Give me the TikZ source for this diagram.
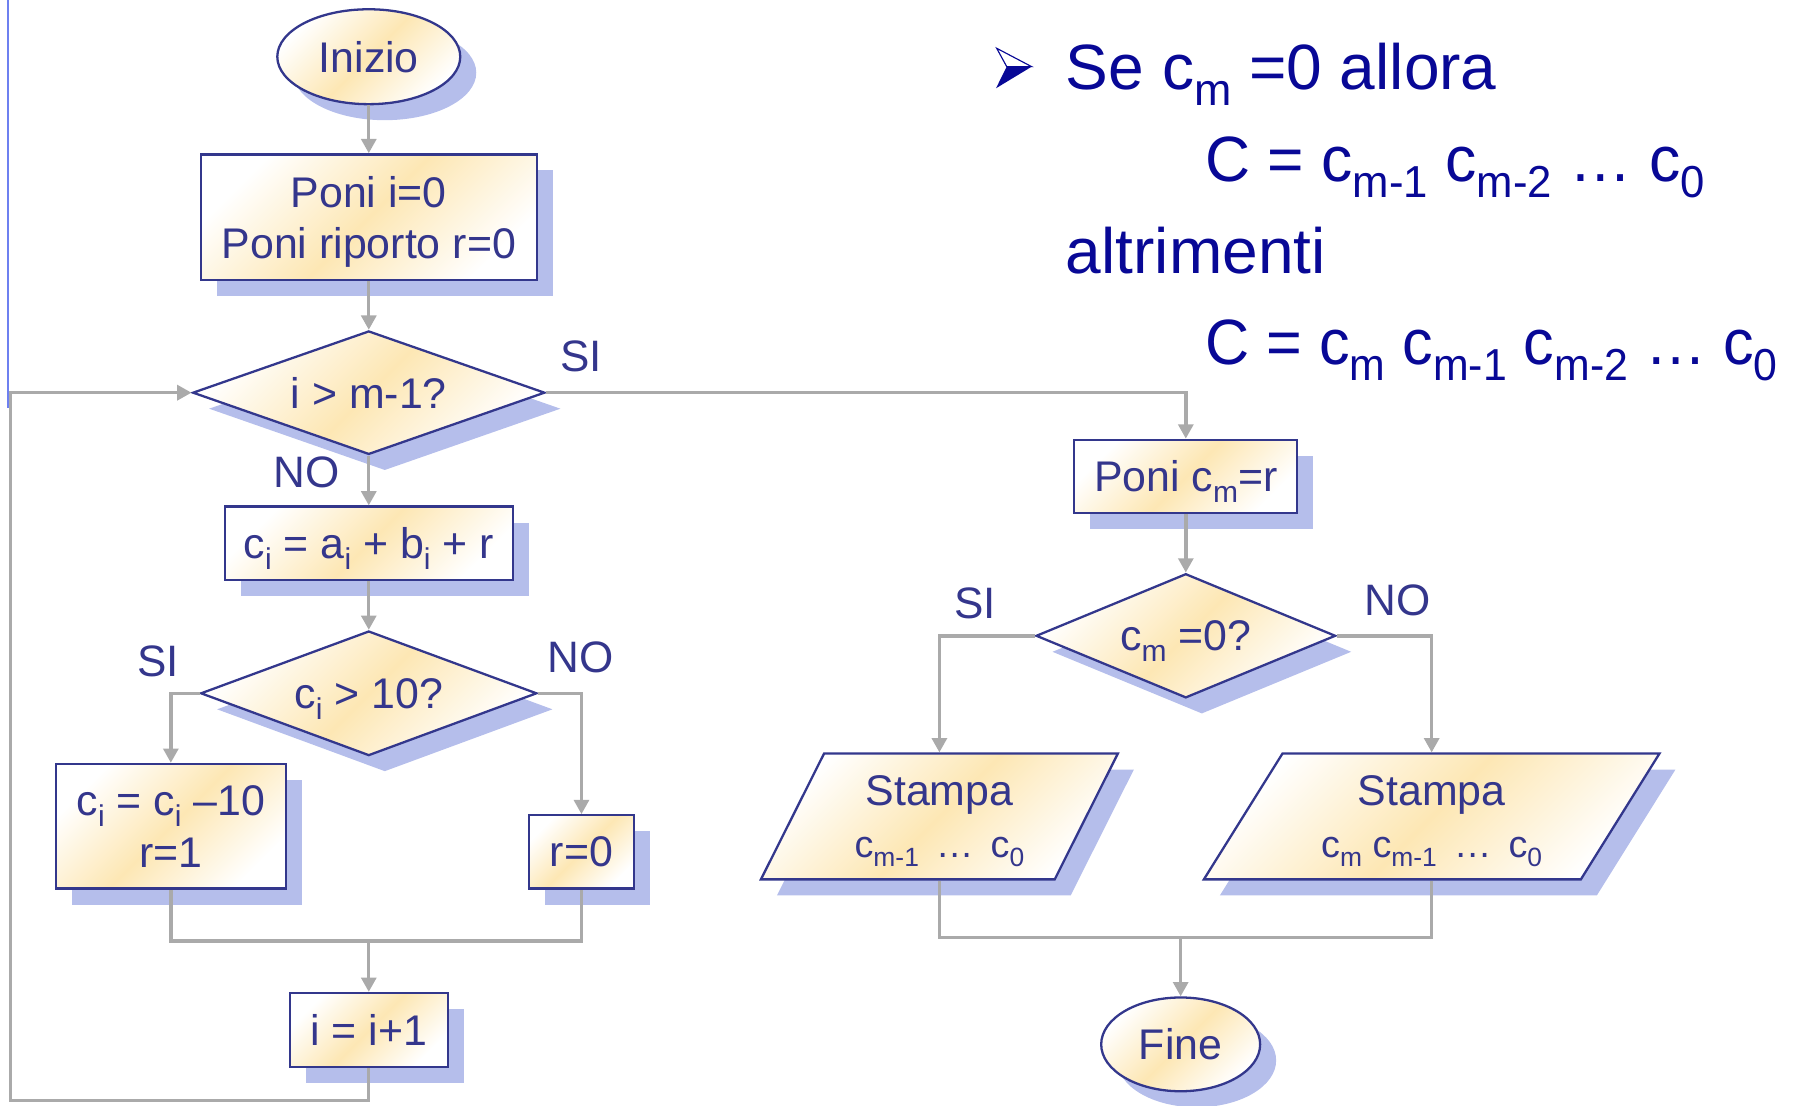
\documentclass[tikz,border=0pt]{standalone}
\usepackage{fontspec}
\setmainfont{Liberation Sans}
\usepackage{graphicx}
\usetikzlibrary{shapes.geometric,arrows.meta,shadows}
\definecolor{txt}{RGB}{52,54,140}
\definecolor{edge}{RGB}{51,55,140}
\definecolor{shd}{RGB}{181,190,235}
\definecolor{yel}{RGB}{253,231,180}
\definecolor{gry}{RGB}{170,170,170}
\definecolor{navy}{RGB}{8,8,150}
\definecolor{sidebar}{RGB}{110,128,240}
\newcommand\dn[1]{\raisebox{-.25em}{\scalebox{.7}{#1}}}
\newcommand\cseq[1]{{\fontsize{33}{40}\selectfont #1}}
\begin{document}
\begin{tikzpicture}[x=1pt,y=-1pt,
 base/.style={draw=edge,line width=2pt,text=txt,top color=white,bottom color=white,middle color=yel,shading angle=45,
   drop shadow={shadow xshift=14pt,shadow yshift=-14pt,fill=shd,opacity=1},
   font=\fontsize{37.5}{45}\selectfont,align=center,inner sep=0pt,text depth=0pt},
 box/.style={base,rectangle},
 dec/.style={base,diamond,aspect=2.8},
 term/.style={base,ellipse},
 para/.style={base,trapezium,trapezium stretches=true},
 conn/.style={draw=gry,line width=3pt,-{Triangle[length=12.5pt,width=13pt]}},
 wire/.style={draw=gry,line width=3pt},
 lab/.style={text=txt,font=\fontsize{38.5}{40}\selectfont,inner sep=0pt},
 rt/.style={text=navy,font=\fontsize{56}{60}\selectfont,inner sep=0pt,anchor=base west}]
\useasboundingbox (0,0) rectangle (1568,967);

\draw[sidebar,line width=1.5pt] (7,0) -- (7,357);

% bullet
\fill[navy] (880.4,58.3) -- (902.2,58.3) -- (871,77.2) -- cycle;
\draw[navy,line width=1pt,fill=white,line join=miter] (871.6,42.2) -- (902.2,58.3) -- (880.4,58.3) -- cycle;

\node[rt] (t1) at (932,78) {Se c\dn{m} =0 allora};
\node[rt] (t2) at (1054,158.3) {\scalebox{.975}[1]{C = c\dn{m-1} c\dn{m-2} … c\dn{0}}};
\node[rt] (t3) at (932,239) {altrimenti};
\node[rt] (t4) at (1054,318.6) {\scalebox{.955}[1]{C = c\dn{m} c\dn{m-1} c\dn{m-2} … c\dn{0}}};

\node[term,minimum width=160pt,minimum height=83pt] (ini) at (322.5,49.6) {Inizio};
\node[box,minimum width=294pt,minimum height=110pt] (b1) at (322.5,190) {Poni i=0\\Poni riporto r=0};
\node[dec,minimum width=308pt,minimum height=108pt] (d1) at (322.5,343.4) {i > m-1?};
\node[box,minimum width=252pt,minimum height=64pt] (b2) at (322.5,475) {c\dn{i} = a\dn{i} + b\dn{i} + r};
\node[dec,minimum width=294pt,minimum height=109pt] (d2) at (322.5,606.3) {c\dn{i} > 10?};
\node[box,minimum width=201pt,minimum height=109pt] (b3) at (149.4,722.6) {c\dn{i} = c\dn{i} –10\\r=1};
\node[box,minimum width=92pt,minimum height=64pt] (b4) at (508.5,745) {r=0};
\node[box,minimum width=138pt,minimum height=64.6pt] (b5) at (322.5,900.7) {i = i+1};
\node[box,minimum width=195pt,minimum height=64pt] (b6) at (1037,416.6) {Poni c\dn{m}=r};
\node[dec,minimum width=262pt,minimum height=108.6pt] (d3) at (1037,556) {c\dn{m} =0?};
\node[para,trapezium left angle=60.3,trapezium right angle=119.7,minimum width=312.7pt,minimum height=110pt] (p1) at (821.5,714) {Stampa\\\cseq{c\dn{m-1}\hspace{.45em}…\hspace{.45em}c\dn{0}}};
\node[para,trapezium left angle=54.45,trapezium right angle=125.55,minimum width=398.7pt,minimum height=110pt] (p2) at (1252,714) {Stampa\\\cseq{c\dn{m} c\dn{m-1}\hspace{.45em}…\hspace{.45em}c\dn{0}}};
\node[term,minimum width=139pt,minimum height=82pt] (fin) at (1032.5,913.3) {Fine};

\node[lab] (si1) at (508,312) {SI};
\node[lab] (no1) at (268,413) {NO};
\node[lab] (si2) at (138.5,578) {SI};
\node[lab] (no2) at (508,575) {NO};
\node[lab] (si3) at (853,528) {SI};
\node[lab] (no3) at (1222,525) {NO};

\coordinate (j1) at (322.5,823);
\coordinate (j2) at (1032.5,820);
\coordinate (lp) at (9,962.6);
\draw[conn] (ini.south) -- (b1.north);
\draw[conn] (b1.south) -- (d1.north);
\draw[conn] (d1.south) -- (b2.north);
\draw[conn] (b2.south) -- (d2.north);
\draw[conn] (d2.west) -| (b3.north);
\draw[conn] (d2.east) -| (b4.north);
\draw[wire] (b3.south) |- (j1) -| (b4.south);
\draw[conn] (j1) -- (b5.north);
\draw[conn] (b5.south) |- (lp) |- (d1.west);
\draw[conn] (d1.east) -| (b6.north);
\draw[conn] (b6.south) -- (d3.north);
\draw[conn] (d3.west) -| (p1.north);
\draw[conn] (d3.east) -| (p2.north);
\draw[wire] (p1.south) |- (j2) -| (p2.south);
\draw[conn] (j2) -- (fin.north);
\end{tikzpicture}
\end{document}
